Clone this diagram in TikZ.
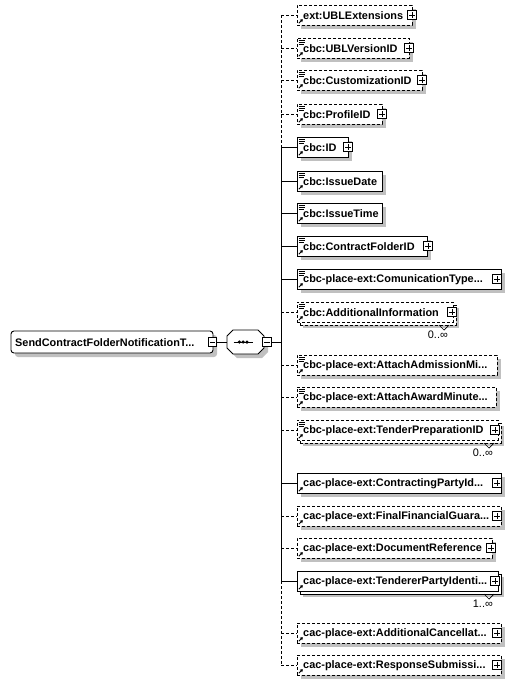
\documentclass[tikz,border=0pt]{standalone}
\usepackage{fontspec}
\setmainfont{Liberation Sans}
\usetikzlibrary{arrows.meta}
\definecolor{shadowc}{RGB}{192,192,192}
\tikzset{
  ebox/.style={draw=black,fill=white,line width=0.9pt,minimum height=20pt,inner sep=0pt,outer sep=0pt},
  opt/.style={dash pattern=on 3pt off 2pt},
  req/.style={solid},
  etxt/.style={inner sep=0pt,font=\fontsize{10.9}{12}\selectfont\bfseries,text=black,anchor=west},
  conn/.style={line width=0.9pt},
  pbox/.style={draw=black,fill=white,solid,line width=0.8pt,minimum size=8.6pt,inner sep=0pt,
    path picture={\draw[line width=0.8pt,solid] ([xshift=1.6pt]path picture bounding box.west) -- ([xshift=-1.6pt]path picture bounding box.east)
      ([yshift=-1.6pt]path picture bounding box.north) -- ([yshift=1.6pt]path picture bounding box.south);}},
  mbox/.style={draw=black,fill=white,solid,line width=0.8pt,minimum size=8.6pt,inner sep=0pt,
    path picture={\draw[line width=0.8pt,solid] ([xshift=1.6pt]path picture bounding box.west) -- ([xshift=-1.6pt]path picture bounding box.east);}},
  multlbl/.style={font=\fontsize{10.9}{12}\selectfont,inner sep=0pt,anchor=north east}
}
\newcommand\myshadow[3]{\fill[shadowc] (297+#3,#1-10+#3) rectangle (#2+#3,#1+10+#3);}
\newcommand\mybox[5]{%
  \pgfmathsetmacro\boxw{#3-297}%
  \node[ebox,#4,minimum width=\boxw pt,anchor=west] (e#1) at (297,#2) {};
  \node[etxt] (t#1) at (303,#2+0.5) {#5};
  \coordinate (j#1) at (281,#2);
  \draw[conn,#4] (j#1) -- (e#1.west);
  \draw[line width=1pt,-{Triangle[length=2.4pt,width=3.2pt]}] ([xshift=1.8pt,yshift=1.8pt]e#1.south west) -- ++(4,-4);
}
\newcommand\mylines[1]{\foreach \d/\l in {2.4/6,4.6/6,6.8/5}{\draw[line width=0.9pt] ([xshift=1.6pt,yshift=-\d pt]e#1.north west) -- ++(\l,0);}}
\newcommand\myplus[2]{\node[pbox] (p#1) at ([xshift=#2pt]e#1.east) {};}
\newcommand\myback[4]{%
  \pgfmathsetmacro\boxw{#3-297}%
  \node[ebox,#4,minimum width=\boxw pt,anchor=west] (e#1b) at (300,#2+3) {};
}
\newcommand\mymult[2]{%
  \draw[line width=0.7pt] ([xshift=-17pt]e#1b.south east) -- ++(5,5) -- ++(5,-5);
  \node[multlbl] (m#1) at ([xshift=-8pt,yshift=-6pt]e#1b.south east) {#2};
}
\newcommand\octa[3]{% x shift, y shift, style
  \path[#3] (227+#1,336+#2) -- (233+#1,330+#2) -- (258+#1,330+#2) -- (264+#1,336+#2) -- (264+#1,348+#2) -- (258+#1,354+#2) -- (233+#1,354+#2) -- (227+#1,348+#2) -- cycle;
}
\begin{document}
\begin{tikzpicture}[x=1pt,y=-1pt]
\useasboundingbox (0,0) rectangle (515,686);
% root element
\fill[shadowc,rounded corners=3pt] (15,335) rectangle (217,357);
\node[draw=black,fill=white,line width=0.9pt,rounded corners=3pt,minimum width=202pt,minimum height=22pt,inner sep=0pt] (root) at (112,342) {};
\node[etxt] (roott) at (15,342.5) {SendContractFolderNotificationT...};
\node[mbox] (rootm) at (212.5,342) {};
% sequence compositor
\octa{4}{4}{fill=shadowc}
\octa{0}{0}{draw=black,fill=white,line width=0.9pt}
\node[minimum width=37pt,minimum height=24pt,inner sep=0pt] (seq) at (245.5,342) {};
\draw[line width=1pt] (233.5,342) -- (253,342);
\foreach \xx in {239.4,243.2,247}{\fill (\xx,342) circle (1.75);}
\node[mbox] (seqm) at (267,342) {};
\draw[conn] (rootm.east) -- (seq.west);
\coordinate (jr) at (281,342);
\draw[conn] (seqm.east) -- (jr);
% children
\myshadow{15}{412}{4}\mybox{1}{15}{412}{opt}{ext:UBLExtensions}\myplus{1}{0}
\myshadow{48}{409}{4}\mybox{2}{48}{409}{opt}{cbc:UBLVersionID}\mylines{2}\myplus{2}{0}
\myshadow{80}{422}{4}\mybox{3}{80}{422}{opt}{cbc:CustomizationID}\mylines{3}\myplus{3}{0}
\myshadow{114}{382}{4}\mybox{4}{114}{382}{opt}{cbc:ProfileID}\mylines{4}\myplus{4}{0}
\myshadow{147}{348}{4}\mybox{5}{147}{348}{req}{cbc:ID}\mylines{5}\myplus{5}{0}
\myshadow{181}{382}{4}\mybox{6}{181}{382}{req}{cbc:IssueDate}\mylines{6}
\myshadow{213}{382}{4}\mybox{7}{213}{382}{req}{cbc:IssueTime}\mylines{7}
\myshadow{246}{427}{4}\mybox{8}{246}{427}{req}{cbc:ContractFolderID}\mylines{8}\myplus{8}{1}
\myshadow{279}{501}{4}\mybox{9}{279}{501}{req}{cbc-place-ext:ComunicationType...}\mylines{9}\myplus{9}{-4}
\myshadow{312}{453}{6}\myback{10}{312}{453}{opt}\mybox{10}{312}{453}{opt}{cbc:AdditionalInformation}\mylines{10}\myplus{10}{-1}\mymult{10}{0..∞}
\myshadow{365}{497}{4}\mybox{11}{365}{497}{opt}{cbc-place-ext:AttachAdmissionMi...}\mylines{11}
\myshadow{397}{496}{4}\mybox{12}{397}{496}{opt}{cbc-place-ext:AttachAwardMinute...}\mylines{12}
\myshadow{430}{498}{6}\myback{13}{430}{498}{opt}\mybox{13}{430}{498}{opt}{cbc-place-ext:TenderPreparationID}\mylines{13}\myplus{13}{-3}\mymult{13}{0..∞}
\myshadow{483}{501}{4}\mybox{14}{483}{501}{req}{cac-place-ext:ContractingPartyId...}\myplus{14}{-4}
\myshadow{516}{501}{4}\mybox{15}{516}{501}{opt}{cac-place-ext:FinalFinancialGuara...}\myplus{15}{-4}
\myshadow{548}{492}{4}\mybox{16}{548}{492}{opt}{cac-place-ext:DocumentReference}\myplus{16}{-1}
\myshadow{581}{498}{6}\myback{17}{581}{498}{req}\mybox{17}{581}{498}{req}{cac-place-ext:TendererPartyIdenti...}\myplus{17}{-3}\mymult{17}{1..∞}
\myshadow{633}{501}{4}\mybox{18}{633}{501}{opt}{cac-place-ext:AdditionalCancellat...}\myplus{18}{-4}
\myshadow{665}{501}{4}\mybox{19}{665}{501}{opt}{cac-place-ext:ResponseSubmissi...}\myplus{19}{-4}
% vertical bus
\draw[conn,opt] (j1) -- (j5);
\draw[conn] (j5) -- (j17);
\draw[conn,opt] (j17) -- (j19);
\end{tikzpicture}
\end{document}
